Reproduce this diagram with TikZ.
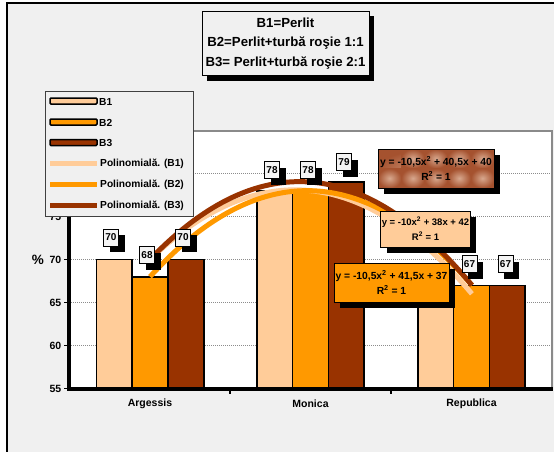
\documentclass[tikz,border=0pt]{standalone}
\usepackage{fontspec}
\setmainfont{Liberation Sans}
\usetikzlibrary{shadows}
\definecolor{bgc}{HTML}{F0F0F0}
\definecolor{cBa}{HTML}{FFCC99}
\definecolor{cBb}{HTML}{FF9900}
\definecolor{cBc}{HTML}{993300}
\definecolor{gridc}{HTML}{8C8C8C}
\definecolor{borderc}{HTML}{8A8A8A}
\definecolor{lblfill}{HTML}{F4F4F4}
\definecolor{brlight}{HTML}{D8A88E}
\definecolor{brdark}{HTML}{A5522F}
\begin{document}
\begin{tikzpicture}[x=1pt,y=-1pt,
  barbox/.style={draw=black, line width=1.6pt},
  trend/.style={line width=5pt},
  sh/.style={general shadow={fill=black, shadow xshift=#1, shadow yshift=-#1}},
  vallabel/.style={draw=black, line width=0.7pt, fill=lblfill, font=\fontsize{10}{11}\selectfont\bfseries, inner sep=0pt, minimum width=15pt, minimum height=17pt, sh=6pt},
  eqbox/.style={draw=black, line width=0.8pt, align=center, font=\fontsize{10.3}{15}\selectfont\bfseries, inner sep=1pt, sh=6pt},
  axlabel/.style={font=\fontsize{10.5}{12}\selectfont\bfseries, inner sep=0pt},
  legtext/.style={font=\fontsize{10.2}{11}\selectfont\bfseries, anchor=west, inner sep=0pt},
  legbar/.style={draw=black, line width=1.5pt, rounded corners=1pt},
  gridline/.style={gridc, line width=0.6pt, dash pattern=on 1pt off 1pt}
]
\useasboundingbox (0,0) rectangle (554,452);
\clip (0,0) rectangle (554,452);
% chart background and frame
\fill[white] (0,0) rectangle (554,452);
\draw[fill=bgc, line width=1.2pt] (7,3) rectangle (600,500);

% title box
\node[draw=black, line width=0.8pt, fill=bgc, sh=5pt, minimum width=167pt, minimum height=64pt, inner sep=0pt, align=center, font=\fontsize{13.2}{19.5}\selectfont\bfseries] (title) at (285.5,43.5)
  {B1=Perlit\\B2=Perlit+turbă roşie 1:1\\B3= Perlit+turbă roşie 2:1};

% plot area
\fill[white] (69,131) rectangle (552,388.5);
\draw[borderc, line width=1.8pt] (69,131) -- (552,131) -- (552,389);
\foreach \v in {60,65,70,75,80}
  \draw[gridline] (69,{388.5-8.6*(\v-55)}) -- (551,{388.5-8.6*(\v-55)});

% bars
\foreach \c/\a/\b/\d in {150/70/68/70, 310.5/78/78/79, 471.5/66/67/67} {
  \draw[barbox, fill=cBa] ({\c-53.7},388.5) rectangle ({\c-17.9},{388.5-8.6*(\a-55)});
  \draw[barbox, fill=cBb] ({\c-17.9},388.5) rectangle ({\c+17.9},{388.5-8.6*(\b-55)});
  \draw[barbox, fill=cBc] ({\c+17.9},388.5) rectangle ({\c+53.7},{388.5-8.6*(\d-55)});
}

% axes
\draw[line width=3.5pt] (69,131) -- (69,389) -- (553,389);
\foreach \v in {55,60,...,85} {
  \draw[line width=1.5pt] (64,{388.5-8.6*(\v-55)}) -- (69,{388.5-8.6*(\v-55)});
  \node[axlabel, anchor=east] (y\v) at (61.5,{388.5-8.6*(\v-55)}) {\v};
}
\foreach \t in {230,391}
  \draw[line width=1.5pt] (\t,389) -- (\t,394);
\node[font=\fontsize{13.5}{15}\selectfont\bfseries, inner sep=0pt] (pct) at (38,259.5) {\%};
\node[axlabel] (catA) at (150,404) {Argessis};
\node[axlabel] (catM) at (310.5,404) {Monica};
\node[axlabel] (catR) at (471.5,404) {Republica};

% polynomial trend lines
\draw[trend, cBa] plot[domain=1:3, samples=60, smooth] ({161*\x-11},{388.5-8.6*(-10*\x*\x+38*\x+42-55)});
\draw[trend, cBb] plot[domain=1:3, samples=60, smooth] ({161*\x-11},{388.5-8.6*(-10.5*\x*\x+41.5*\x+37-55)});
\draw[trend, cBc] plot[domain=1:3, samples=60, smooth] ({161*\x-11},{388.5-8.6*(-10.5*\x*\x+40.5*\x+40-55)});

% value labels
\node[vallabel] (lA1) at (111,237.5) {70};
\node[vallabel] (lA2) at (147,255) {68};
\node[vallabel] (lA3) at (183,237.5) {70};
\node[vallabel] (lM1) at (272,170) {78};
\node[vallabel] (lM2) at (308,170) {78};
\node[vallabel] (lM3) at (344,162) {79};
\node[vallabel] (lR2) at (469.5,264) {67};
\node[vallabel] (lR3) at (505.5,264) {67};

% equation boxes
\node[eqbox, minimum width=116pt, minimum height=39pt, fill=brdark,
  path picture={
    \foreach \i in {0,...,4}{\foreach \j in {0,1}{
      \shade[inner color=brlight, outer color=brdark] ([xshift=\i*23.2pt, yshift=-\j*19.5pt]path picture bounding box.north west) rectangle ++(23.2pt,-19.5pt);
    }}
  }] (eqc) at (436,168.5) {y = -10,5x\textsuperscript{2} + 40,5x + 40\\R\textsuperscript{2} = 1};
\node[eqbox, fill=cBa, minimum width=87pt, minimum height=36pt, font=\fontsize{9.5}{15}\selectfont\bfseries] (eqa) at (425.5,229) {y = -10x\textsuperscript{2} + 38x + 42\\R\textsuperscript{2} = 1};
\node[eqbox, fill=cBb, minimum width=115pt, minimum height=39pt] (eqb) at (391.5,282.5) {y = -10,5x\textsuperscript{2} + 41,5x + 37\\R\textsuperscript{2} = 1};

% legend
\node[draw=black!75, line width=0.7pt, fill=bgc, minimum width=148pt, minimum height=125pt, anchor=north west, inner sep=0pt] (legend) at (45,91) {};
\draw[legbar, fill=cBa] (50,98) rectangle (97,104);
\node[legtext] (tB1) at (99,101.5) {B1};
\draw[legbar, fill=cBb] (50,119) rectangle (97,125);
\node[legtext] (tB2) at (99,122.5) {B2};
\draw[legbar, fill=cBc] (50,139.5) rectangle (97,145.5);
\node[legtext] (tB3) at (99,143) {B3};
\draw[trend, cBa] (50,163) -- (97,163);
\node[legtext] (tP1) at (100,164) {Polinomială. (B1)};
\draw[trend, cBb] (50,184) -- (97,184);
\node[legtext] (tP2) at (100,185) {Polinomială. (B2)};
\draw[trend, cBc] (50,205) -- (97,205);
\node[legtext] (tP3) at (100,206) {Polinomială. (B3)};
\end{tikzpicture}
\end{document}
